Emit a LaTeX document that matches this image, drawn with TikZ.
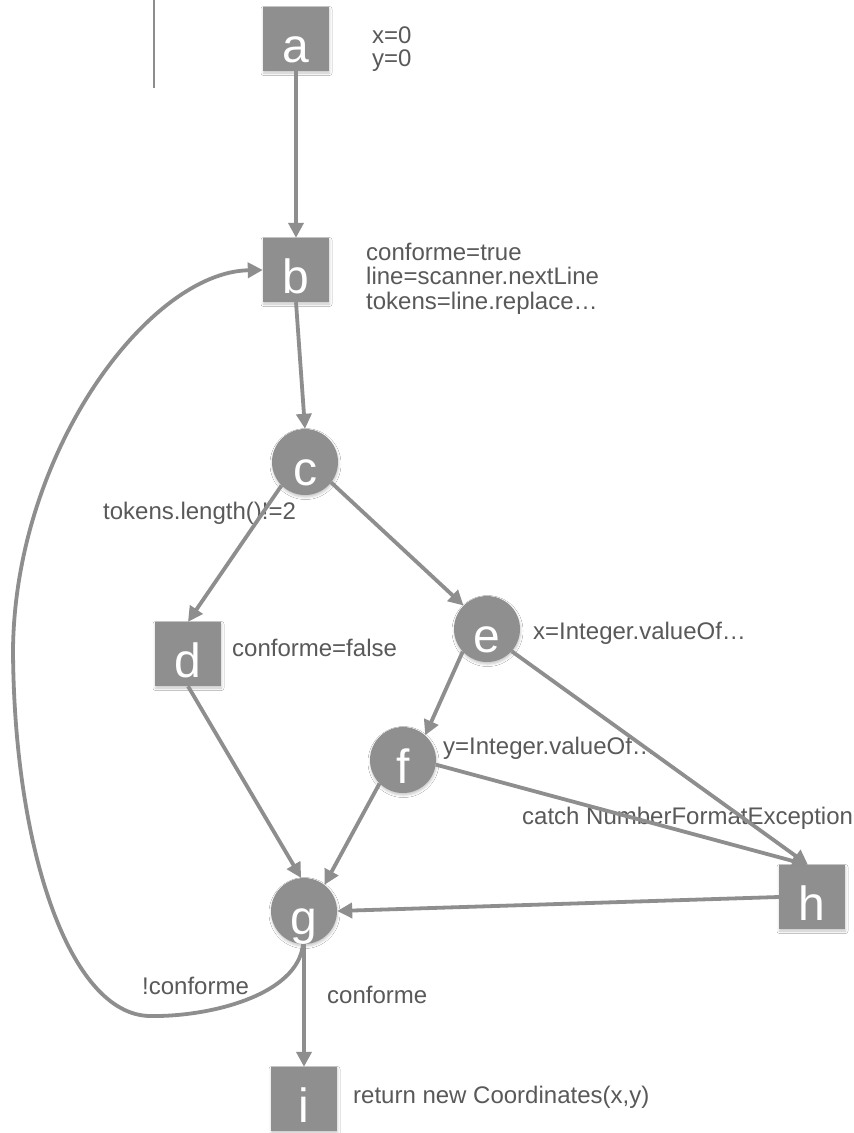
\documentclass[tikz,border=0pt]{standalone}
\usepackage{fontspec}
\setmainfont{Liberation Sans}
\usetikzlibrary{arrows.meta,shadows.blur}
\definecolor{nodegray}{HTML}{8F8F8F}
\definecolor{edgegray}{HTML}{8E8E8E}
\definecolor{labelgray}{HTML}{595959}
\begin{document}
\begin{tikzpicture}[x=1pt,y=-1pt,
  base/.style={fill=nodegray,draw=none,text=white,inner sep=0pt,
    font=\fontsize{48}{48}\selectfont,text height=46pt,text depth=0pt,
    blur shadow={shadow xshift=0.5pt,shadow yshift=-2pt,shadow opacity=22,shadow blur radius=2.5pt}},
  sq/.style={base,rectangle,minimum width=66pt,minimum height=64pt},
  rd/.style={base,circle,minimum size=66pt},
  flow/.style={draw=edgegray,line width=3.8pt,-{Triangle[length=15pt,width=15pt]}},
  lbl/.style={text=labelgray,inner sep=0pt,anchor=base west,font=\fontsize{24}{28}\selectfont}]
\useasboundingbox (0,0) rectangle (854,1133);
\fill[white] (0,0) rectangle (854,1133);

% margin rule at the upper left
\coordinate (r1) at (154,0);
\coordinate (r2) at (154,88);
\draw[edgegray,line width=1.6pt] (r1) -- (r2);

% nodes
\node[sq] (a) at (296,39) {a};
\node[sq] (b) at (296,270) {b};
\node[rd] (c) at (305,462) {c};
\node[sq] (d) at (188,654) {d};
\node[rd] (e) at (487,629) {e};
\node[rd] (f) at (403,760) {f};
\node[rd] (g) at (304,911) {g};
\node[sq] (h) at (812,897) {h};
\node[sq] (i) at (304,1099) {i};

% annotations
\node[lbl] (ta1) at (372,43) {x=0};
\node[lbl] (ta2) at (372,66) {y=0};
\node[lbl] (tb1) at (366,260) {conforme=true};
\node[lbl] (tb2) at (366,284) {line=scanner.nextLine};
\node[lbl] (tb3) at (366,309) {tokens=line.replace…};
\node[lbl] (tcd) at (103,519) {tokens.length()!=2};
\node[lbl] (td) at (232,656) {conforme=false};
\node[lbl] (te) at (533,639) {x=Integer.valueOf…};
\node[lbl] (tf) at (443,754) {y=Integer.valueOf…};
\node[lbl] (th) at (522,824) {catch NumberFormatException};
\node[lbl] (tgb) at (142,994) {!conforme};
\node[lbl] (tgi) at (327,1003) {conforme};
\node[lbl] (ti) at (353,1103) {return new Coordinates(x,y)};

% connectors
\draw[flow] (a.south) -- (b.north);
\draw[flow] (b.south) -- (c.north);
\draw[flow] (c.225) -- (d.north);
\draw[flow] (c.-38) -- (e.135);
\draw[flow] (e.223) -- (f.48);
\draw[flow] (e.-42) -- ([xshift=-4pt]h.north);
\draw[flow] (f.-8) -- ([xshift=-5pt]h.north);
\draw[flow] (d.south) -- (g.95);
\draw[flow] (f.225) -- (g.52);
\draw[flow] (h.west) -- (g.east);
\draw[flow] (g.south) -- (i.north);
% loop back from g to b
\draw[flow] ([xshift=-1pt]g.south) .. controls (298,995) and (210,1017) .. (150,1016)
  .. controls (70,1015) and (14,850) .. (13,650)
  .. controls (15,450) and (150,272) .. (b.west);
\end{tikzpicture}
\end{document}
